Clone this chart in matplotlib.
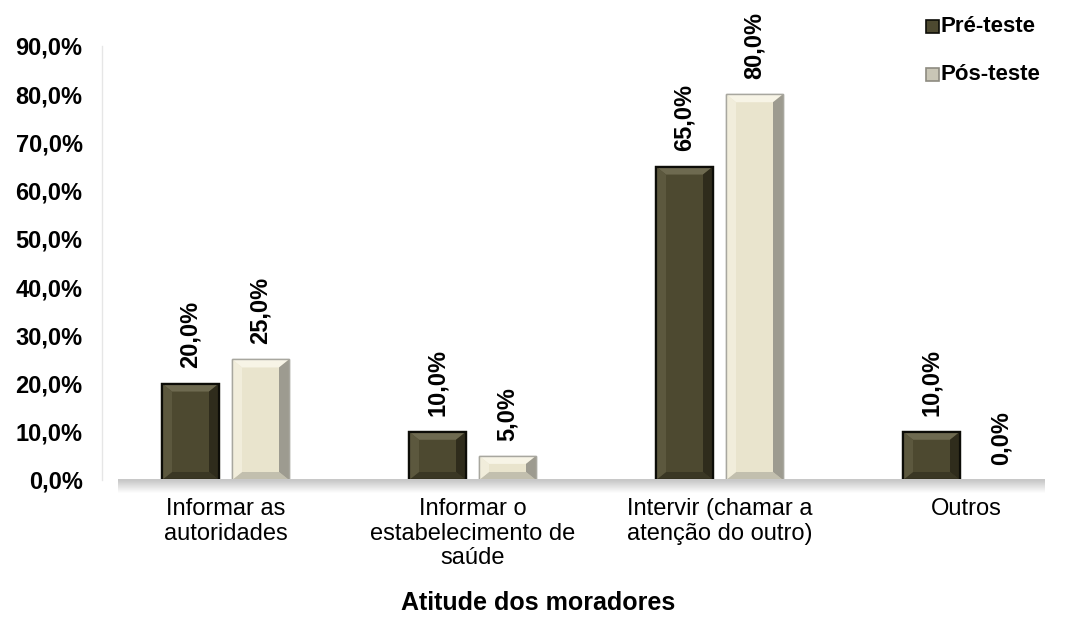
import matplotlib
matplotlib.use("Agg")
import matplotlib.pyplot as plt
from matplotlib.patches import Rectangle, Polygon
import matplotlib.transforms as mtransforms
import numpy as np

categories = ["Informar as\nautoridades", "Informar o\nestabelecimento de\nsaúde",
              "Intervir (chamar a\natenção do outro)", "Outros"]
pre_teste = [20.0, 10.0, 65.0, 10.0]
pos_teste = [25.0, 5.0, 80.0, 0.0]
series_names = ["Pré-teste", "Pós-teste"]
yticks = [0, 10, 20, 30, 40, 50, 60, 70, 80, 90]
xlabel = "Atitude dos moradores"

plt.rcParams['font.family'] = ['Liberation Sans', 'DejaVu Sans']

W, H = 1077, 643
fig = plt.figure(figsize=(W / 100, H / 100), dpi=100)
ax_left, ax_right = 102, 1060
ax_bottom, ax_top = 480, 46
ax = fig.add_axes([ax_left / W, 1 - ax_bottom / H, (ax_right - ax_left) / W, (ax_bottom - ax_top) / H])

spacing_px = 247.0
x = np.arange(len(categories))
ax.set_xlim(-0.5, -0.5 + (ax_right - ax_left) / spacing_px)
ax.set_ylim(0, 90)
px_per_y = (ax_bottom - ax_top) / 90.0

bw = 57 / spacing_px
off = 35 / spacing_px

styles = {
    "pre": dict(face="#4d4930", top="#6e6a50", left="#5c583e", right="#2f2c1c",
                bottom="#3a3724", edge="#0d0d08", lw=1.6),
    "pos": dict(face="#e9e4cd", top="#f7f4e6", left="#f1eddb", right="#9d9b90",
                bottom="#c2bfae", edge="#a8a79f", lw=1.0),
}


def draw_bars(xs, vals, st):
    bars = ax.bar(xs, vals, bw, color=st["face"], edgecolor=st["edge"], linewidth=st["lw"], zorder=3)
    for r in bars:
        h = r.get_height()
        if h <= 0:
            continue
        x0, w = r.get_x(), r.get_width()
        x1 = x0 + w
        dx = min(10 / spacing_px, w / 3)
        dy = min(8 / px_per_y, h / 3)
        polys = [
            ([(x0, h), (x1, h), (x1 - dx, h - dy), (x0 + dx, h - dy)], st["top"]),
            ([(x0, 0), (x1, 0), (x1 - dx, dy), (x0 + dx, dy)], st["bottom"]),
            ([(x0, 0), (x0, h), (x0 + dx, h - dy), (x0 + dx, dy)], st["left"]),
            ([(x1, 0), (x1, h), (x1 - dx, h - dy), (x1 - dx, dy)], st["right"]),
        ]
        for pts, c in polys:
            ax.add_patch(Polygon(pts, closed=True, facecolor=c, edgecolor="none", zorder=3.2))
        ax.add_patch(Rectangle((x0, 0), w, h, facecolor="none", edgecolor=st["edge"],
                               linewidth=st["lw"], zorder=3.4))
    return bars


draw_bars(x - off, pre_teste, styles["pre"])
draw_bars(x + off, pos_teste, styles["pos"])

# data labels
for xs, vals in ((x - off, pre_teste), (x + off, pos_teste)):
    for xi, v in zip(xs, vals):
        ax.annotate(f"{v:.1f}%".replace(".", ","), (xi, v), xytext=(0, 11),
                    textcoords="offset points", rotation=90, ha="center", va="bottom",
                    fontsize=17, fontweight="bold", annotation_clip=False, zorder=5)

# floor (3D-like)
trans = mtransforms.blended_transform_factory(fig.transFigure, fig.transFigure)
n = 12
for i in range(n):
    c = 0.80 + 0.19 * i / (n - 1)
    fig.patches.append(Rectangle((118 / W, 1 - (481 + i + 1) / H), (1045 - 118) / W, 1 / H,
                                 transform=trans, facecolor=(c, c, c), edgecolor="none", zorder=0))
fig.patches.append(Rectangle((118 / W, 1 - 481 / H), (1045 - 118) / W, 2 / H,
                             transform=trans, facecolor="#c8c8c8", edgecolor="none", zorder=0))

for s in ("top", "right", "bottom"):
    ax.spines[s].set_visible(False)
ax.spines["left"].set_color("#e6e6e6")
ax.spines["left"].set_linewidth(1.0)
ax.patch.set_visible(False)

ax.set_yticks(yticks)
ax.set_yticklabels([f"{t:.1f}%".replace(".", ",") for t in yticks], fontsize=17, fontweight="bold")
ax.tick_params(axis="y", length=0, pad=14)
ax.set_xticks(x)
ax.set_xticklabels(categories, fontsize=17, linespacing=1.15)
ax.tick_params(axis="x", length=0, pad=13)

fig.text(0.5, 1 - 603 / H, xlabel, ha="center", va="center", fontsize=18, fontweight="bold")

# legend
legend_face = ["#4d4930", "#c9c6b6"]
legend_edge = ["#0d0d08", "#8d8b80"]
for i, (name, fc, ec) in enumerate(zip(series_names, legend_face, legend_edge)):
    yc = 27 + i * 48
    fig.patches.append(Rectangle((926 / W, 1 - (yc + 6) / H), 13 / W, 13 / H,
                                 transform=fig.transFigure, facecolor=fc, edgecolor=ec, linewidth=1.2))
    fig.text(941 / W, 1 - yc / H, name, ha="left", va="center", fontsize=16, fontweight="bold")

fig.savefig("out.png", dpi=100)
